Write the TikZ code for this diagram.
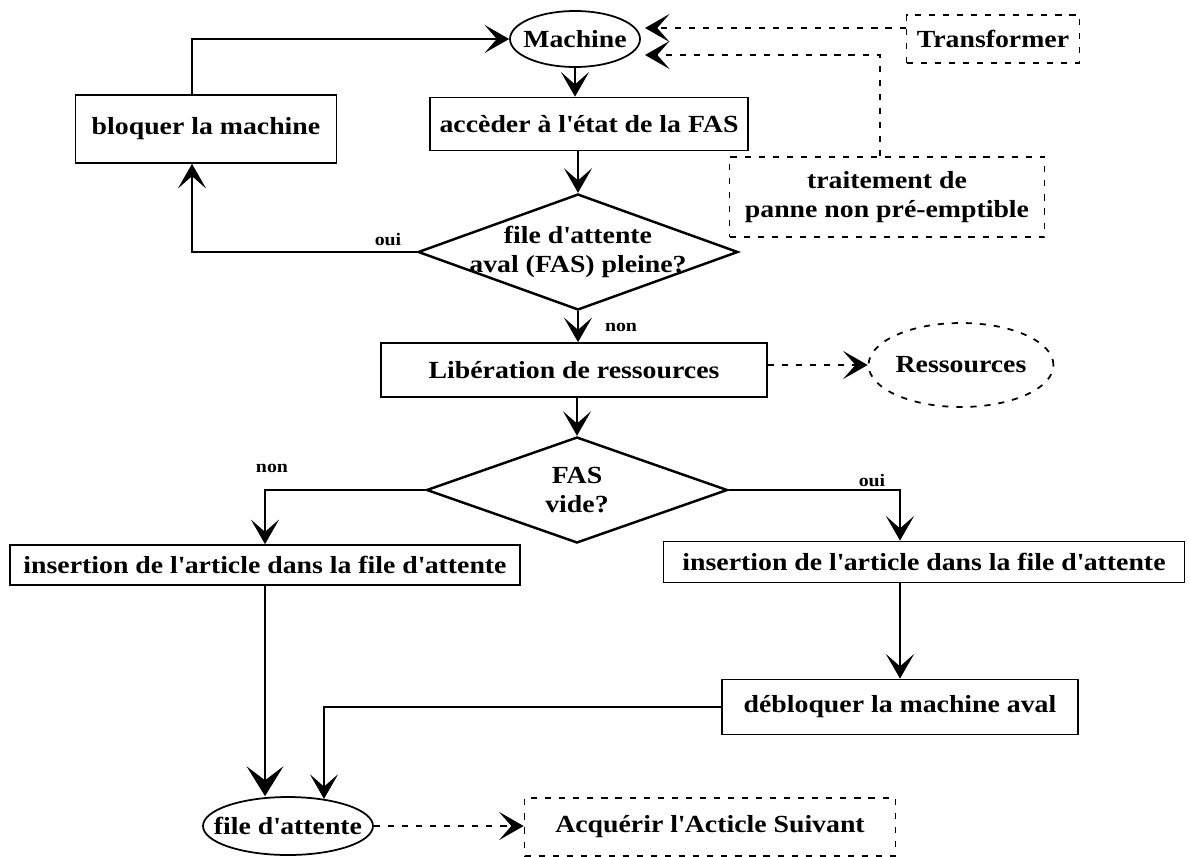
\documentclass[tikz,border=0pt]{standalone}
\usepackage{fontspec}
\setmainfont{Liberation Serif}[FakeStretch=1.13]
\newcommand{\ap}{\textquotesingle}
\usetikzlibrary{arrows.meta, shapes.geometric, positioning, calc}

\begin{document}
\begin{tikzpicture}[x=0.02cm, y=-0.02cm,
    every node/.style={font=\fontsize{14}{16.5}\selectfont\bfseries}]
  \tikzset{
    boite/.style={draw, line width=1pt, inner sep=0pt},
    pointille/.style={draw, line width=1pt, dash pattern=on 3.5pt off 4.5pt, inner sep=0pt},
    test/.style={draw, shape=diamond, line width=1.4pt, inner sep=-4pt, align=center},
    fleche/.style={line width=1pt, -{Stealth[length=14pt, width=16pt, inset=7pt]}},
    grossefleche/.style={line width=1pt, -{Stealth[length=17pt, width=21pt, inset=8pt]}},
    flechepoint/.style={line width=1pt, dash pattern=on 3.5pt off 4.5pt,
                        -{Stealth[length=14pt, width=16pt, inset=7pt]}},
    etiq/.style={font=\fontsize{10}{12}\selectfont\bfseries}
  }
  \useasboundingbox (0,0) rectangle (1190,856);

  % colonne principale
  \node[boite, ellipse, inner sep=-4.5pt, minimum width=2.6cm, minimum height=1.12cm] (machine) at (575,39) {Machine};
  \node[boite, minimum width=5.22cm, minimum height=1.36cm] (bloquer) at (206,129) {bloquer la machine};
  \node[boite, minimum width=6.36cm, minimum height=1.06cm] (acceder) at (589,124) {accèder à l\ap{}état de la FAS};
  \node[test, aspect=2.75, minimum width=6.4cm, minimum height=2.32cm] (plein) at (578,252)
        {file d\ap{}attente\\aval (FAS) pleine?};
  \node[boite, minimum width=7.72cm, minimum height=1.08cm] (liberer) at (574,370) {Libération de ressources};
  \node[test, aspect=2.8, minimum width=6.02cm, minimum height=2.12cm] (vide) at (577,490) {FAS\\vide?};
  \node[boite, minimum width=10.2cm, minimum height=0.8cm] (insertG) at (265,565)
        {insertion de l\ap{}article dans la file d\ap{}attente};
  \node[boite, minimum width=10.42cm, minimum height=0.82cm] (insertD) at (924,562)
        {insertion de l\ap{}article dans la file d\ap{}attente};
  \node[boite, minimum width=7.12cm, minimum height=1.1cm] (debloquer) at (900,707) {débloquer la machine aval};
  \node[boite, ellipse, inner sep=-8pt, minimum width=3.4cm, minimum height=1.16cm] (file) at (288,826) {file d\ap{}attente};

  % elements en pointille
  \node[pointille, minimum width=3.46cm, minimum height=0.96cm] (transfo) at (993,39) {Transformer};
  \node[pointille, minimum width=6.3cm, minimum height=1.6cm, align=center] (panne) at (887,197)
        {traitement de\\panne non pré-emptible};
  \node[pointille, ellipse, minimum width=3.42cm, minimum height=1.68cm] (ressources) at (961,365) {Ressources};
  \node[pointille, minimum width=7.42cm, minimum height=1.16cm] (acquerir) at (710,827)
        {Acquérir l\ap{}Acticle Suivant};
  \coordinate (m1) at (645,28);
  \coordinate (m2) at (645,55);

  \draw[fleche] (machine.south) -- (machine.south |- acceder.north);
  \draw[fleche, line width=0.6pt] (plein.north |- acceder.south) -- (plein.north);
  \draw[fleche] (plein.west) -- (plein.west -| 192,0) -- (192,0 |- bloquer.south);
  \node[etiq] (oui1) at (388,240) {oui};
  \draw[fleche] (192,0 |- bloquer.north) |- (machine.west);
  \draw[fleche] (plein.south) -- (plein.south |- liberer.north);
  \node[etiq] (non1) at (621,327) {non};
  \draw[flechepoint] (liberer.east |- ressources.west) -- (ressources.west);
  \draw[fleche] (vide.north |- liberer.south) -- (vide.north);
  \draw[fleche, line width=0.8pt] (vide.west) -| (insertG.north);
  \node[etiq] (non2) at (272,468) {non};
  \draw[fleche, line width=0.8pt] (vide.east) -| (insertD.north -| debloquer.north);
  \node[etiq] (oui2) at (872,481) {oui};
  \draw[fleche, line width=0.6pt] (debloquer.north |- insertD.south) -- (debloquer.north);
  \draw[fleche, line width=0.6pt] (debloquer.west) -| (file.37);
  \draw[grossefleche, line width=0.6pt] (insertG.south) -- (insertG.south |- file.north);
  \draw[flechepoint] (file.east) -- (file.east -| acquerir.west);
  \draw[flechepoint] (transfo.west |- m1) -- (m1);
  \draw[flechepoint] (panne.north -| 880,0) |- (m2);
\end{tikzpicture}
\end{document}
